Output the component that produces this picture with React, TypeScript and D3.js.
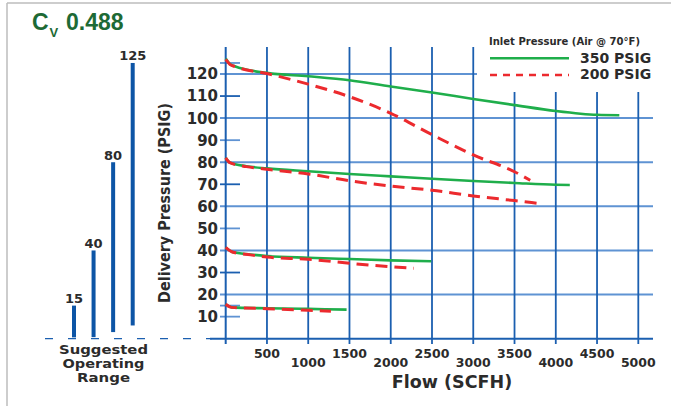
import React from "react";
import * as d3 from "d3";

// ---- data ----
const flowTicks = [500, 1000, 1500, 2000, 2500, 3000, 3500, 4000, 4500, 5000];
const gridValues = [0, 20, 40, 60, 80, 100];
const oddTicks = [10, 30, 50, 70, 90, 110];
const setpointTicks = [15, 125];
const yTickLabels = [10, 20, 30, 40, 50, 60, 70, 80, 90, 100, 110, 120];

const rangeCategories = ["15", "40", "80", "125"];
const rangeHigh = [15, 40, 80, 125];
const rangeLow = [0.6, 0.7, 3, 6];
const rangeCaption = ["Suggested", "Operating", "Range"];

// [flow SCFH, delivery pressure PSIG]
const s350_125: [number, number][] = [[0, 127], [50, 124.5], [110, 123.5], [500, 120.5], [1000, 119], [1500, 117.2], [2000, 114.3], [2500, 111.6], [3000, 108.7], [3500, 105.9], [4000, 103.2], [4300, 102], [4500, 101.5], [4770, 101.3]];
const s200_125: [number, number][] = [[0, 126.6], [50, 124.4], [110, 123.4], [500, 120.2], [1000, 115.4], [1500, 109.7], [2000, 102.2], [2500, 92.5], [3000, 83.3], [3500, 75.7], [3690, 71.8]];
const s350_80: [number, number][] = [[0, 82], [50, 79.8], [250, 78.2], [500, 77.2], [1000, 75.9], [1500, 74.7], [2000, 73.6], [2500, 72.5], [3000, 71.5], [3500, 70.6], [4000, 69.8], [4170, 69.7]];
const s200_80: [number, number][] = [[0, 82], [50, 79.8], [250, 78], [500, 76.8], [1000, 74.7], [1500, 71.6], [2000, 69.2], [2500, 67.3], [3000, 64.7], [3500, 62.6], [3775, 61.4]];
const s350_40: [number, number][] = [[0, 41.4], [80, 39.3], [300, 38.2], [500, 37.5], [1000, 36.7], [1500, 36.1], [2000, 35.5], [2490, 35.1]];
const s200_40: [number, number][] = [[0, 41.4], [80, 39.3], [300, 38], [500, 37], [1000, 36], [1500, 34.2], [2000, 32.6], [2280, 31.9]];
const s350_15: [number, number][] = [[0, 15.6], [70, 14.2], [500, 13.8], [1000, 13.5], [1465, 13.2]];
const s200_15: [number, number][] = [[0, 15.6], [70, 14.2], [500, 13.6], [1000, 12.9], [1275, 12.4]];

const series350 = [s350_125, s350_80, s350_40, s350_15];
const series200 = [s200_125, s200_80, s200_40, s200_15];

const GREEN = "#1fae4b";
const RED = "#ec2a2e";
const DARKBLUE = "#1b5fb0";
const LIGHTBLUE = "#5f93d3";
const BAR = "#0d55a6";
const TEXT = "#2b2b2b";
const FONT = "DejaVu Sans";

const captionWidths = [89, 82, 53];

export default function App() {
  const x = d3.scaleLinear().domain([0, 5000]).range([225.7, 638.3]);
  const y = d3.scaleLinear().domain([0, 120]).range([338.7, 74]);
  const xb = d3.scalePoint<string>().domain(rangeCategories).range([74, 132.7]);

  const line = d3
    .line<[number, number]>()
    .x((d) => x(d[0]))
    .y((d) => y(d[1]))
    .curve(d3.curveMonotoneX);

  return (
    <svg
      width={678}
      height={406}
      style={{ position: "absolute", left: 0, top: 0, background: "#fff" }}
      fontFamily={FONT}
      fontWeight="bold"
    >
      {/* frame */}
      <line x1={7} y1={3} x2={671} y2={3} stroke="#bdbdbd" strokeWidth={1.5} />
      <line x1={7} y1={3} x2={7} y2={406} stroke="#bdbdbd" strokeWidth={1.5} />

      {/* title */}
      <text x={32} y={30} fill="#1d6a35" fontFamily="Liberation Sans" fontSize={23} fontWeight="bold">
        C
      </text>
      <text x={49.5} y={37} fill="#1d6a35" fontFamily="Liberation Sans" fontSize={13} fontWeight="bold">
        V
      </text>
      <text x={66} y={30} fill="#1d6a35" fontFamily="Liberation Sans" fontSize={23} fontWeight="bold">
        0.488
      </text>

      {/* suggested operating range bars */}
      {rangeCategories.map((c, i) => (
        <g key={c}>
          <rect
            x={(xb(c) as number) - 2}
            width={4}
            y={y(rangeHigh[i])}
            height={y(rangeLow[i]) - y(rangeHigh[i])}
            fill={BAR}
          />
          <text x={xb(c) as number} y={y(rangeHigh[i]) - 2.5} textAnchor="middle" fontSize={13} fill={TEXT}>
            {c}
          </text>
        </g>
      ))}
      <line x1={45} x2={212} y1={y(0)} y2={y(0)} stroke={DARKBLUE} strokeWidth={1.3} strokeDasharray="8,15" />
      {rangeCaption.map((t, i) => (
        <text
          key={t}
          x={103.5}
          y={354.3 + i * 14}
          textAnchor="middle"
          fontSize={12}
          fill={TEXT}
          textLength={captionWidths[i]}
          lengthAdjust="spacingAndGlyphs"
        >
          {t}
        </text>
      ))}

      {/* horizontal grid */}
      {gridValues.map((v) => (
        <line
          key={"g" + v}
          x1={v === 0 ? 210 : 220}
          x2={653}
          y1={y(v)}
          y2={y(v)}
          stroke={v === 0 ? DARKBLUE : LIGHTBLUE}
          strokeWidth={2}
        />
      ))}
      <line x1={220} x2={477} y1={y(120)} y2={y(120)} stroke={LIGHTBLUE} strokeWidth={2} />
      {oddTicks.map((v, i) => (
        <line key={"o" + v} x1={220} x2={240} y1={y(v)} y2={y(v)} stroke={i % 2 === 0 ? LIGHTBLUE : DARKBLUE} strokeWidth={1.8} />
      ))}
      {setpointTicks.map((v) => (
        <line key={"s" + v} x1={220} x2={240} y1={y(v)} y2={y(v)} stroke={LIGHTBLUE} strokeWidth={1.8} />
      ))}

      {/* vertical grid */}
      <line x1={x(0)} x2={x(0)} y1={47} y2={344} stroke={DARKBLUE} strokeWidth={2} />
      {flowTicks.map((f) => (
        <line key={"v" + f} x1={x(f)} x2={x(f)} y1={f >= 3500 ? 92 : 47} y2={344} stroke={DARKBLUE} strokeWidth={1.8} />
      ))}

      {/* y tick labels */}
      {yTickLabels.map((v) => (
        <text key={"yl" + v} x={218} y={y(v) + 5.4} textAnchor="end" fontSize={15} fill={TEXT}>
          {v}
        </text>
      ))}

      {/* x tick labels */}
      {flowTicks.map((f, i) => (
        <text key={"xl" + f} x={x(f)} y={i % 2 === 0 ? 357.7 : 366.7} textAnchor="middle" fontSize={12.5} fill={TEXT}>
          {f}
        </text>
      ))}

      {/* axis titles */}
      <text x={452} y={388} textAnchor="middle" fontSize={17.5} fill={TEXT}>
        Flow (SCFH)
      </text>
      <text
        transform="translate(170,203) rotate(-90)"
        textAnchor="middle"
        fontSize={15.5}
        fill={TEXT}
        textLength={200}
        lengthAdjust="spacingAndGlyphs"
      >
        Delivery Pressure (PSIG)
      </text>

      {/* curves */}
      {series350.map((s, i) => (
        <path key={"g350" + i} d={line(s) || ""} fill="none" stroke={GREEN} strokeWidth={2.6} />
      ))}
      {series200.map((s, i) => (
        <path key={"r200" + i} d={line(s) || ""} fill="none" stroke={RED} strokeWidth={3} strokeDasharray="12,7" />
      ))}

      {/* legend */}
      <text x={489} y={45} fontSize={11} fill={TEXT} textLength={151} lengthAdjust="spacingAndGlyphs">
        Inlet Pressure (Air @ 70°F)
      </text>
      <line x1={490} x2={569} y1={58.3} y2={58.3} stroke={GREEN} strokeWidth={2.6} />
      <line x1={490} x2={569} y1={75} y2={75} stroke={RED} strokeWidth={2.6} strokeDasharray="7,6" />
      <text x={580} y={63.3} fontSize={14} fill={TEXT}>
        350 PSIG
      </text>
      <text x={580} y={79} fontSize={14} fill={TEXT}>
        200 PSIG
      </text>
    </svg>
  );
}
